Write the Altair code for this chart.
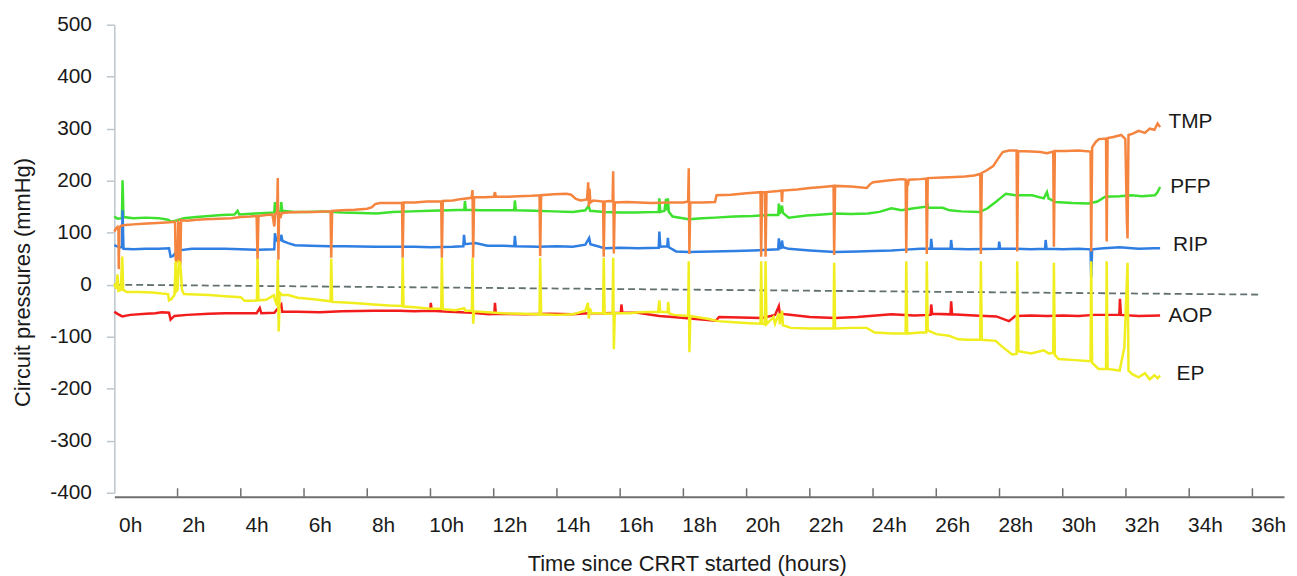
import altair as alt
import pandas as pd

# ---------------- data (hours, mmHg) ----------------
TMP = [(0.00,102),(0.05,108),(0.10,111),(0.13,104),(0.14,30),(0.16,108),(0.20,113),(0.35,115),(0.6,116),(0.9,117),
       (1.2,118),(1.5,119),(1.75,120),(1.92,121),(1.94,48),(1.97,44),(2.00,46),(2.02,120),(2.04,118),(2.06,45),
       (2.09,43),(2.11,124),(2.3,123),(2.6,125),(2.9,126),(3.3,127),(3.7,128),(4.0,130),(4.3,131),(4.50,132),
       (4.53,48),(4.56,132),(4.8,134),(5.00,135),(5.04,120),(5.06,112),(5.09,136),(5.15,140),(5.17,205),(5.19,48),
       (5.21,140),(5.25,128),(5.30,138),(5.5,139),(5.9,140),(6.3,140),(6.84,141),(6.86,52),(6.89,142),(7.2,143),
       (7.6,144),(8.0,146),(8.15,149),(8.25,155),(8.4,157),(8.8,157),(9.10,157),(9.12,52),(9.15,158),(9.5,158),
       (9.9,160),(10.2,160),(10.34,160),(10.36,52),(10.39,161),(10.7,162),(11.0,165),(11.3,167),(11.33,182),(11.35,52),
       (11.38,168),(11.7,168),(12.0,169),(12.04,178),(12.07,169),(12.4,169),(12.8,170),(13.2,171),(13.45,172),(13.47,55),
       (13.50,172),(13.9,174),(14.3,175),(14.45,173),(14.6,165),(14.75,162),(14.95,164),(14.99,197),(15.01,150),(15.03,185),
       (15.06,158),(15.15,162),(15.46,160),(15.48,54),(15.51,160),(15.65,161),(15.76,160),(15.78,218),(15.80,60),(15.83,158),
       (16.2,159),(16.6,158),(17.0,157),(17.5,158),(18.0,158),(18.15,160),(18.17,224),(18.19,59),(18.22,158),(18.6,158),
       (19.0,159),(19.05,172),(19.5,173),(20.0,176),(20.44,178),(20.46,54),(20.49,178),(20.58,178),(20.60,54),(20.63,178),
       (21.0,180),(21.1,181),(21.12,159),(21.14,181),(21.6,183),(22.0,186),(22.4,188),(22.75,190),(22.77,57),(22.80,190),
       (23.3,189),(23.8,186),(23.9,193),(24.0,197),(24.4,200),(24.9,203),(25.03,202),(25.05,61),(25.08,202),(25.10,190),
       (25.13,202),(25.5,203),(25.68,204),(25.70,59),(25.73,205),(26.2,206),(26.6,207),(26.9,208),(27.2,210),(27.39,213),
       (27.41,59),(27.44,215),(27.6,220),(27.8,228),(27.95,242),(28.1,255),(28.3,258),(28.54,258),(28.56,64),(28.59,257),
       (29.0,256),(29.3,255),(29.5,253),(29.70,256),(29.72,73),(29.75,257),(30.1,257),(30.5,258),(30.88,256),(30.90,64),
       (30.93,264),(31.05,275),(31.15,280),(31.37,281),(31.39,83),(31.42,282),(31.6,284),(31.85,288),(31.98,280),(32.03,120),
       (32.05,89),(32.08,288),(32.2,290),(32.4,296),(32.6,292),(32.75,300),(32.9,298),(33.0,310),(33.08,303)]

EP = [(0.00,2),(0.06,-8),(0.10,20),(0.13,-12),(0.20,-10),(0.25,54),(0.28,-10),(0.40,-14),(0.8,-14),(1.2,-15),
      (1.5,-17),(1.70,-18),(1.73,-30),(1.80,-28),(1.90,-20),(1.94,45),(1.97,-12),(2.00,-10),(2.04,44),(2.08,42),
      (2.11,20),(2.14,-10),(2.2,-18),(2.6,-19),(3.0,-20),(3.5,-22),(4.0,-24),(4.12,-31),(4.3,-31),(4.51,-30),
      (4.53,50),(4.56,-30),(4.8,-29),(5.05,-20),(5.08,-29),(5.15,-40),(5.17,48),(5.20,-90),(5.23,-15),(5.30,-20),
      (5.5,-20),(5.8,-25),(6.3,-28),(6.84,-32),(6.86,50),(6.89,-33),(7.3,-34),(7.8,-36),(8.2,-38),(8.7,-40),
      (9.10,-41),(9.12,52),(9.15,-42),(9.6,-44),(10.0,-46),(10.34,-46),(10.36,52),(10.39,-47),(10.8,-49),(11.07,-45),
      (11.1,-50),(11.31,-50),(11.33,52),(11.35,-75),(11.38,-51),(11.8,-53),(12.3,-55),(12.9,-56),(13.45,-57),(13.47,52),(13.50,-57),
      (14.0,-58),(14.5,-57),(14.9,-50),(14.98,-35),(15.01,-65),(15.04,-45),(15.10,-55),(15.46,-55),(15.48,52),(15.51,-56),
      (15.76,-55),(15.78,52),(15.80,-124),(15.83,-55),(16.3,-55),(16.6,-53),(17.2,-52),(17.24,-30),(17.27,-52),(17.50,-53),
      (17.52,-33),(17.55,-55),(17.7,-58),(18.15,-60),(18.17,45),(18.19,-130),(18.22,-60),(18.8,-66),(19.1,-70),(19.6,-72),
      (20.1,-74),(20.44,-75),(20.46,45),(20.49,-75),(20.58,-76),(20.60,45),(20.63,-76),(20.85,-62),(20.9,-75),(21.02,-55),
      (21.05,-76),(21.12,-50),(21.15,-78),(21.4,-83),(22.0,-84),(22.75,-84),(22.77,42),(22.80,-84),(23.3,-83),(23.8,-83),
      (24.05,-92),(24.6,-94),(25.03,-94),(25.05,45),(25.08,-94),(25.5,-92),(25.68,-92),(25.70,45),(25.73,-88),(26.0,-95),
      (26.4,-98),(26.7,-105),(27.0,-106),(27.39,-106),(27.41,45),(27.44,-106),(27.88,-108),(28.1,-120),(28.4,-134),(28.54,-133),
      (28.56,45),(28.60,-128),(29.0,-132),(29.4,-126),(29.55,-132),(29.70,-131),(29.72,42),(29.75,-135),(29.87,-143),(30.4,-145),
      (30.88,-147),(30.90,45),(30.93,-150),(31.13,-162),(31.37,-162),(31.39,45),(31.42,-162),(31.8,-165),(31.95,-120),(32.05,42),
      (32.08,-165),(32.2,-172),(32.4,-178),(32.6,-170),(32.75,-182),(32.9,-174),(33.0,-180),(33.08,-175)]

PFP = [(0.00,131),(0.1,127),(0.24,128),(0.26,201),(0.29,130),(0.6,128),(1.0,129),(1.4,128),(1.7,125),(1.8,121),
       (2.0,124),(2.2,128),(2.6,130),(3.0,132),(3.4,134),(3.8,135),(3.9,142),(3.95,135),(4.46,137),(4.8,138),
       (5.06,139),(5.08,159),(5.11,140),(5.26,142),(5.28,159),(5.31,142),(5.7,140),(6.1,140),(6.6,141),(7.2,139),
       (7.8,138),(8.3,137),(8.8,140),(9.4,141),(10.0,142),(10.6,143),(11.07,144),(11.09,161),(11.12,144),(11.6,143),
       (12.1,143),(12.65,143),(12.67,162),(12.70,143),(13.3,142),(13.9,141),(14.5,140),(14.9,143),(15.0,152),(15.05,142),
       (15.5,140),(16.0,139),(16.5,139),(17.22,140),(17.24,166),(17.27,140),(17.40,142),(17.45,165),(17.48,143),(17.51,166),
       (17.54,140),(17.66,131),(18.17,126),(18.6,128),(19.0,129),(19.6,131),(20.2,132),(20.7,134),(21.0,134),(21.02,156),
       (21.05,136),(21.12,152),(21.15,138),(21.33,129),(21.9,133),(22.4,135),(22.8,137),(23.3,136),(23.84,137),(24.2,140),
       (24.58,147),(24.9,143),(25.3,147),(25.68,150),(25.70,158),(25.75,148),(26.2,148),(26.42,143),(26.8,141),(27.36,140),
       (27.6,146),(27.88,159),(28.0,165),(28.20,175),(28.5,172),(28.8,172),(29.03,172),(29.4,166),(29.5,178),(29.55,166),
       (29.77,159),(30.3,157),(30.82,156),(31.1,160),(31.34,169),(31.8,170),(32.17,172),(32.5,170),(32.92,172),(33.0,178),
       (33.08,188)]

RIP = [(0.00,76),(0.15,72),(0.24,72),(0.26,143),(0.29,69),(0.6,68),(1.0,69),(1.4,69),(1.73,70),(1.78,54),
       (1.85,55),(1.95,62),(2.05,66),(2.45,69),(3.0,69),(3.5,69),(4.0,68),(4.56,67),(5.06,68),(5.08,99),
       (5.12,85),(5.26,86),(5.28,96),(5.32,84),(5.5,80),(5.71,76),(6.2,75),(6.8,74),(7.3,74),(8.23,73),
       (8.7,73),(9.5,73),(10.0,72),(10.7,73),(11.04,74),(11.06,96),(11.09,78),(11.42,80),(11.8,75),(12.3,75),
       (12.65,74),(12.67,94),(12.70,74),(13.42,73),(14.0,74),(14.5,73),(14.9,77),(15.02,90),(15.06,78),(15.51,70),
       (16.0,71),(16.56,70),(17.22,71),(17.24,102),(17.27,73),(17.49,74),(17.51,90),(17.54,72),(17.77,64),(18.17,63),
       (18.9,64),(19.65,65),(20.2,66),(20.70,67),(21.00,68),(21.02,89),(21.05,70),(21.10,71),(21.12,85),(21.15,72),
       (21.33,69),(22.0,66),(22.80,63),(23.5,64),(24.0,65),(24.58,66),(24.9,67),(25.5,69),(25.82,69),(25.84,88),
       (25.87,69),(26.45,69),(26.47,86),(26.50,69),(27.0,68),(27.97,69),(27.99,83),(28.02,69),(28.5,69),(29.0,68),
       (29.44,69),(29.46,86),(29.49,69),(30.0,68),(30.5,69),(30.88,68),(30.90,14),(30.93,68),(31.3,70),(31.8,72),
       (32.4,69),(32.9,70),(33.08,70)]

AOP = [(0.00,-52),(0.1,-56),(0.25,-61),(0.5,-58),(1.0,-56),(1.3,-55),(1.5,-53),(1.73,-54),(1.78,-67),(1.90,-60),
       (2.3,-58),(2.99,-56),(3.5,-55),(4.0,-55),(4.5,-55),(4.6,-45),(4.65,-55),(5.06,-54),(5.28,-38),(5.31,-52),
       (5.8,-52),(6.5,-53),(7.2,-51),(8.23,-50),(9.0,-50),(9.5,-51),(9.99,-50),(10.01,-35),(10.04,-50),(10.6,-52),
       (11.32,-54),(11.85,-57),(12.02,-56),(12.04,-35),(12.07,-56),(13.0,-57),(13.8,-56),(14.47,-57),(15.0,-55),(15.5,-55),
       (16.02,-54),(16.04,-38),(16.07,-54),(16.56,-54),(17.24,-60),(17.66,-62),(18.4,-66),(19.03,-69),(19.13,-62),(19.8,-63),
       (20.49,-64),(20.9,-58),(21.02,-41),(21.05,-55),(21.23,-57),(22.0,-62),(22.80,-64),(23.5,-62),(24.58,-57),(25.3,-59),
       (25.82,-58),(25.84,-38),(25.87,-56),(26.45,-57),(26.47,-32),(26.50,-57),(27.2,-59),(27.9,-61),(28.30,-70),(28.5,-60),
       (29.0,-59),(29.5,-60),(30.0,-59),(30.5,-60),(31.0,-58),(31.79,-58),(31.81,-27),(31.84,-58),(32.4,-60),(33.08,-59)]

TREND_T = [0.0, 36.3]
TREND_V = [0, -19]

SERIES_NAMES = ["TMP", "PFP", "RIP", "AOP", "EP"]
SERIES_COLORS = ["#F5843F", "#3DE12E", "#2F7FE3", "#F21C1C", "#F0EE1E"]
LABEL_T = [34.04, 34.04, 34.04, 34.04, 34.04]
LABEL_V = [312, 188, 76.5, -60.6, -172]

X_LABEL_VALUES = list(range(0, 37, 2))
X_TICK_VALUES = list(range(2, 37, 2))
Y_TICK_VALUES = list(range(-400, 501, 100))

# ---------------- chart ----------------
FONT = "Liberation Sans"
W, H = 1177, 471

xs = alt.Scale(domain=[0, 37], nice=False, zero=False)
ys = alt.Scale(domain=[-400, 500], nice=False, zero=False)

x_axis = alt.Axis(values=X_LABEL_VALUES, labelExpr="datum.value + 'h'", ticks=False, offset=4,
                  domainColor="#6f6f6f", domainWidth=2, grid=False,
                  labelAlign="center", labelOffset=15.9, labelPadding=18, labelFlush=False, labelOverlap=False,
                  labelFont=FONT, labelFontSize=21, labelColor="#1a1a1a",
                  title="Time since CRRT started (hours)", titleFont=FONT, titleFontSize=22,
                  titleFontWeight="normal", titleColor="#1a1a1a", titleX=576, titleY=67,
                  titleAlign="center", titleBaseline="middle")
y_axis = alt.Axis(values=Y_TICK_VALUES, labelExpr="datum.value + ''", grid=False,
                  domainColor="#bcc6cd", domainWidth=1.5,
                  tickColor="#bcc6cd", tickSize=8, tickWidth=1.5, labelPadding=15,
                  labelFont=FONT, labelFontSize=21, labelColor="#1a1a1a", labelFlush=False,
                  title="Circuit pressures (mmHg)", titleFont=FONT, titleFontSize=22,
                  titleFontWeight="normal", titleColor="#1a1a1a", titleX=-92, titleY=259,
                  titleAngle=270, titleAlign="center", titleBaseline="middle")

X_ENC = alt.X("t:Q", scale=xs, axis=x_axis)
Y_ENC = alt.Y("v:Q", scale=ys, axis=y_axis)

trend_df = pd.DataFrame({"t": TREND_T, "v": TREND_V})
base = alt.Chart(trend_df).mark_line(strokeDash=[7, 4], strokeWidth=1.8, color="#627070").encode(
    x=X_ENC, y=Y_ENC,
)

layers = [base]
data_map = {"TMP": TMP, "PFP": PFP, "RIP": RIP, "AOP": AOP, "EP": EP}
for name in ["PFP", "RIP", "AOP", "TMP", "EP"]:
    pts = data_map[name]
    df = pd.DataFrame({"t": [p[0] for p in pts], "v": [p[1] for p in pts]})
    col = SERIES_COLORS[SERIES_NAMES.index(name)]
    layers.append(
        alt.Chart(df).mark_line(strokeWidth=2.5, color=col).encode(x=X_ENC, y=Y_ENC)
    )

tick_df = pd.DataFrame({"t": X_TICK_VALUES})
ticks = alt.Chart(tick_df).mark_rule(color="#6f6f6f", strokeWidth=1.5).encode(
    x=X_ENC,
    y=alt.value(H - 4.5),
    y2=alt.value(H + 4),
)
layers.append(ticks)

lab_df = pd.DataFrame({"name": SERIES_NAMES, "t": LABEL_T, "v": LABEL_V})
labels = alt.Chart(lab_df).mark_text(font=FONT, fontSize=21, align="center", baseline="middle",
                                     color="#1a1a1a").encode(
    x=X_ENC, y=Y_ENC,
    text="name:N",
)
layers.append(labels)

chart = alt.layer(*layers).properties(
    width=W, height=H,
    autosize=alt.AutoSizeParams(type="none"),
    padding={"left": 107, "top": 15, "right": 5, "bottom": 82},
).configure_view(stroke=None)

chart.save("out.html", embed_options={"renderer": "svg", "actions": False})
